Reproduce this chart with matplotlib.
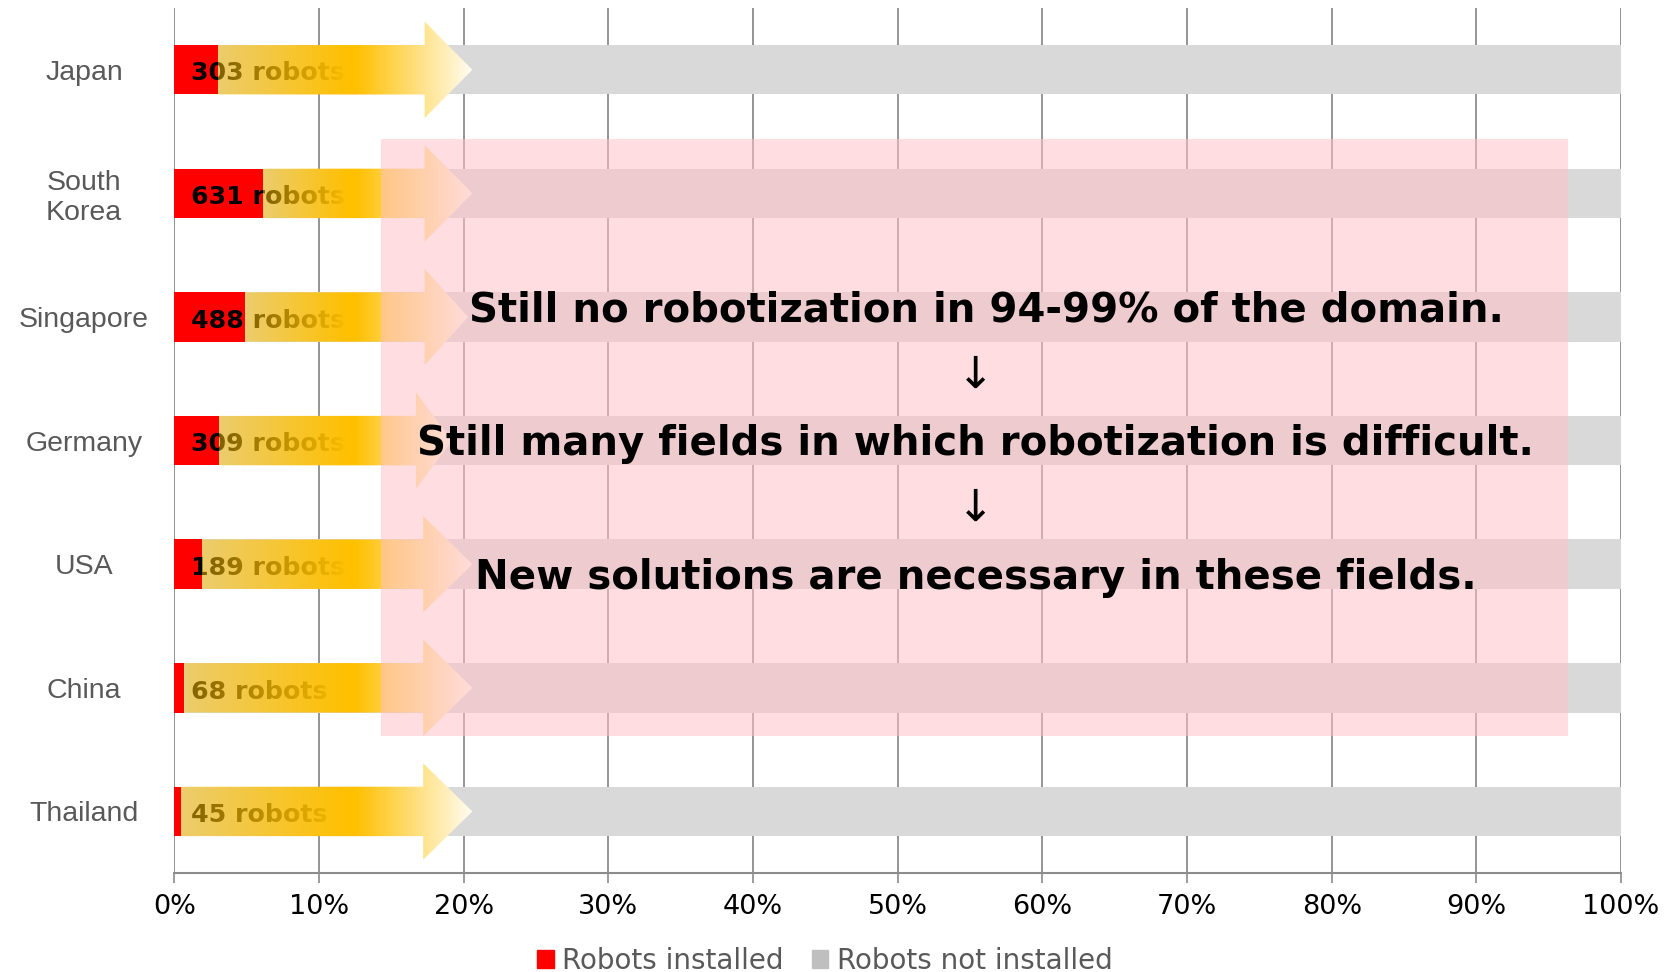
import numpy as np
import matplotlib.pyplot as plt
from matplotlib.patches import Polygon, Rectangle, Patch

plt.rcParams['font.family'] = ['DejaVu Sans']

# data
countries = ['Japan', 'South\nKorea', 'Singapore', 'Germany', 'USA', 'China', 'Thailand']
installed = [3.0, 6.1, 4.9, 3.1, 1.9, 0.7, 0.45]      # share of domain with robots (%)
robot_counts = [303, 631, 488, 309, 189, 68, 45]
not_installed = [100 - v for v in installed]
xticks = list(range(0, 101, 10))
legend_labels = ['Robots installed', 'Robots not installed']
messages = ['Still no robotization in 94-99% of the domain.',
            'Still many fields in which robotization is difficult.',
            'New solutions are necessary in these fields.']

# arrow shapes (x in %)
head_start = [17.3, 17.3, 17.3, 16.7, 17.2, 17.2, 17.2]
arrow_tip = [20.6, 20.6, 20.3, 19.2, 20.6, 20.6, 20.6]

RED = '#FF0000'
GREY = '#D9D9D9'
GOLD = np.array([1.0, 0.753, 0.0])
PALE = np.array([1.0, 0.99, 0.95])


def gradient_arrow(ax, x0, y, x_head, x_tip, body_h=0.4, head_h=0.78):
    verts = [(x0, y - body_h / 2), (x_head, y - body_h / 2), (x_head, y - head_h / 2),
             (x_tip, y), (x_head, y + head_h / 2), (x_head, y + body_h / 2), (x0, y + body_h / 2)]
    poly = Polygon(verts, closed=True, facecolor='none', edgecolor='none', zorder=3)
    ax.add_patch(poly)
    xs = np.linspace(x0, x_tip, 400)
    rgba = np.zeros((1, len(xs), 4))
    # see-through gold at the start, solid gold around 12%, fading to pale at the tip
    rgba[0, :, 3] = np.clip(0.5 + 0.5 * (xs - x0) / (12.0 - x0), 0.5, 1.0)
    t = np.clip((xs - 12.5) / (x_tip - 12.5), 0, 1)[:, None]
    rgba[0, :, :3] = GOLD * (1 - t) + PALE * t
    im = ax.imshow(rgba, extent=[x0, x_tip, y + head_h / 2, y - head_h / 2],
                   aspect='auto', interpolation='bilinear', zorder=3)
    im.set_clip_path(poly)


fig = plt.figure(figsize=(16.7, 9.72), dpi=100)
ax = fig.add_axes([0.1044, 0.1016, 0.9707 - 0.1044, 0.9918 - 0.1016])

y = np.arange(len(countries))
ax.barh(y, installed, height=0.4, color=RED, zorder=2)
ax.barh(y, not_installed, left=installed, height=0.4, color=GREY, zorder=2)

for i, n in enumerate(robot_counts):
    ax.text(1.15, y[i] + 0.03, f'{n} robots', ha='left', va='center', fontsize=18.2,
            fontweight='bold', color='black', zorder=2.5)
    gradient_arrow(ax, installed[i], y[i], head_start[i], arrow_tip[i])

# pink overlay with the message
ax.add_patch(Rectangle((14.3, 0.56), 96.3 - 14.3, 5.39 - 0.56, facecolor=(1.0, 0.757, 0.78),
                       alpha=0.55, edgecolor='none', zorder=4))
ax.text(56.1, 2.04, messages[0], ha='center', va='baseline', fontsize=29,
        fontweight='bold', zorder=5)
ax.text(55.4, 2.47, '↓', ha='center', va='center', fontsize=32, zorder=5)
ax.text(55.4, 3.12, messages[1], ha='center', va='baseline', fontsize=29,
        fontweight='bold', zorder=5)
ax.text(55.4, 3.55, '↓', ha='center', va='center', fontsize=32, zorder=5)
ax.text(55.4, 4.20, messages[2], ha='center', va='baseline', fontsize=29,
        fontweight='bold', zorder=5)

ax.set_xlim(0, 100)
ax.set_ylim(len(countries) - 0.5, -0.5)
ax.set_xticks(xticks)
ax.set_xticklabels([f'{t}%' for t in xticks], fontsize=19.5, color='black')
ax.set_yticks(y)
ax.set_yticklabels(countries, fontsize=20.5, color='#595959', family='Liberation Sans', ha='center')
ax.tick_params(axis='y', length=0, pad=65)
ax.tick_params(axis='x', length=7, width=1.2, color='#8C8C8C', pad=8)

ax.set_axisbelow(True)
ax.xaxis.grid(True, color='#8C8C8C', linewidth=1.3)
for side in ['top', 'right', 'left']:
    ax.spines[side].set_visible(False)
ax.spines['bottom'].set_color('#8C8C8C')
ax.spines['bottom'].set_linewidth(1.5)

handles = [Patch(color=RED, label=legend_labels[0]), Patch(color='#BFBFBF', label=legend_labels[1])]
fig.legend(handles=handles, loc='center', bbox_to_anchor=(825 / 1670, 1 - 961 / 972), ncol=2,
           frameon=False, fontsize=20, handlelength=0.6, handleheight=0.6, handletextpad=0.3,
           columnspacing=1.0, labelcolor='#595959', borderaxespad=0, borderpad=0)

fig.savefig('out.png', dpi=100)
